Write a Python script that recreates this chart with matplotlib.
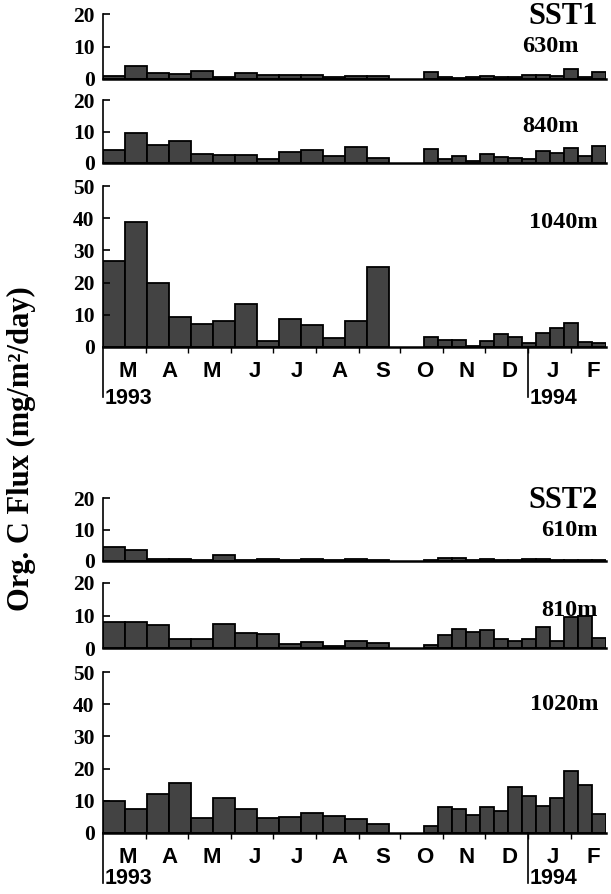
import numpy as np
import matplotlib
matplotlib.use("Agg")
import matplotlib.pyplot as plt

# x axis in days since 1 Mar 1993
month_names = ["M", "A", "M", "J", "J", "A", "S", "O", "N", "D", "J", "F"]
month_days = [31, 30, 31, 30, 31, 31, 30, 31, 30, 31, 31, 28]
year_labels = ["1993", "1994"]

# two trap deployments, 13 cups each
dep1 = (0, 205.5)
dep2 = (231.3, 362)
n_cups = 13

# organic C flux (mg/m2/day), deployment 1 then deployment 2
sst1_630_a = [1.0, 4.0, 2.0, 1.6, 2.6, 0.6, 2.0, 1.2, 1.2, 1.2, 0.5, 1.0, 0.9]
sst1_630_b = [2.3, 0.6, 0.3, 0.6, 1.0, 0.5, 0.6, 1.1, 1.2, 0.8, 3.2, 0.6, 2.2]
sst1_840_a = [4.2, 9.5, 5.8, 7.1, 2.9, 2.4, 2.4, 1.4, 3.4, 4.0, 2.1, 5.1, 1.5]
sst1_840_b = [4.4, 1.3, 2.1, 0.5, 2.8, 1.8, 1.6, 1.3, 3.7, 3.2, 4.7, 2.3, 5.3]
sst1_1040_a = [26.6, 38.7, 20.0, 9.4, 7.2, 8.0, 13.3, 2.0, 8.6, 6.9, 2.7, 8.2, 24.9]
sst1_1040_b = [3.2, 2.2, 2.3, 0.4, 2.0, 4.1, 3.0, 1.2, 4.5, 5.9, 7.4, 1.5, 1.1]

sst2_610_a = [4.4, 3.4, 0.7, 0.7, 0.3, 2.0, 0.3, 0.5, 0.3, 0.5, 0.3, 0.5, 0.4]
sst2_610_b = [0.3, 1.0, 0.9, 0.4, 0.6, 0.4, 0.3, 0.5, 0.5, 0.3, 0.3, 0.3, 0.3]
sst2_810_a = [8.1, 7.9, 7.1, 2.9, 2.9, 7.3, 4.7, 4.4, 1.1, 1.8, 0.7, 2.2, 1.4]
sst2_810_b = [0.8, 4.0, 5.7, 4.8, 5.5, 2.8, 2.2, 2.8, 6.4, 2.2, 9.5, 9.7, 3.2]
sst2_1020_a = [9.8, 7.6, 12.1, 15.4, 4.7, 11.0, 7.3, 4.8, 5.0, 6.1, 5.2, 4.2, 2.8]
sst2_1020_b = [2.1, 8.0, 7.6, 5.7, 8.1, 6.8, 14.4, 11.4, 8.5, 11.0, 19.2, 15.0, 5.9]

W, H = 611, 894
SERIF = "Liberation Serif"
SANS = "Liberation Sans"
BAR = "#434343"

fig = plt.figure(figsize=(W / 100, H / 100), dpi=100)

edges1 = np.linspace(dep1[0], dep1[1], n_cups + 1)
edges2 = np.linspace(dep2[0], dep2[1], n_cups + 1)
bounds = np.cumsum(month_days)
mids = bounds - np.array(month_days) / 2.0


def panel(top_px, zero_px, ymax, vals_a, vals_b, bottom=False, year_off=-37):
    ax = fig.add_axes([103 / W, 1 - zero_px / H, (606 - 103) / W, (zero_px - top_px) / H])
    for e, v in ((edges1, vals_a), (edges2, vals_b)):
        ax.bar(e[:-1], v, width=np.diff(e), align="edge", color=BAR,
               edgecolor="black", linewidth=1.3)
    ax.set_xlim(0, 362)
    ax.set_ylim(0, ymax)
    ax.set_yticks(np.arange(0, ymax + 1, 10))
    ax.tick_params(axis="y", direction="in", length=5, width=1.2, pad=6, labelsize=15.5)
    for lab in ax.get_yticklabels():
        lab.set_fontfamily(SERIF)
        lab.set_fontweight("bold")
    for s in ("top", "right"):
        ax.spines[s].set_visible(False)
    ax.spines["left"].set_linewidth(1.2)
    ax.spines["bottom"].set_linewidth(1.8)
    if bottom:
        ax.set_xticks(bounds[:-1])
        ax.set_xticklabels([])
        ax.tick_params(axis="x", which="major", direction="out", length=4, width=1)
        ax.set_xticks(mids + 2, minor=True)
        ax.set_xticklabels(month_names, minor=True, fontsize=16,
                           fontweight="bold", family=SANS)
        ax.tick_params(axis="x", which="minor", length=0, pad=10)
        for x0 in (0, bounds[9]):
            ax.axvline(x0, ymin=-0.31, ymax=0, color="black", lw=1.2, clip_on=False)
        for x0, lab in zip((0, bounds[9]), year_labels):
            ax.annotate(lab, xy=(x0, 0), xycoords=("data", "axes fraction"),
                        xytext=(1, year_off), textcoords="offset points",
                        ha="left", va="center", fontsize=15.5,
                        fontweight="bold", family=SANS)
    else:
        ax.set_xticks([])
    return ax


panel(14, 79, 20, sst1_630_a, sst1_630_b)
panel(100, 163, 20, sst1_840_a, sst1_840_b)
panel(186, 347, 50, sst1_1040_a, sst1_1040_b, bottom=True, year_off=-37)
panel(498, 561, 20, sst2_610_a, sst2_610_b)
panel(583, 648, 20, sst2_810_a, sst2_810_b)
panel(672, 833, 50, sst2_1020_a, sst2_1020_b, bottom=True, year_off=-33)

# depth and station labels (x right edge px, y centre px)
labels = [("SST1", 598, 16, 22), ("630m", 579, 47, 17.5), ("840m", 579, 126, 17.5),
          ("1040m", 598, 223, 17.5), ("SST2", 598, 500, 22), ("610m", 598, 531, 17.5),
          ("810m", 598, 610, 17.5), ("1020m", 598, 705, 17.5)]
for txt, xr, yc, fs in labels:
    fig.text(xr / W, 1 - yc / H, txt, ha="right", va="center",
             fontsize=fs, fontweight="bold", family=SERIF)

fig.text(21 / W, 1 - 449 / H, "Org. C Flux (mg/m²/day)", rotation=90,
         ha="center", va="center", fontsize=22, fontweight="bold", family=SERIF)

fig.savefig("out.png", dpi=100)
